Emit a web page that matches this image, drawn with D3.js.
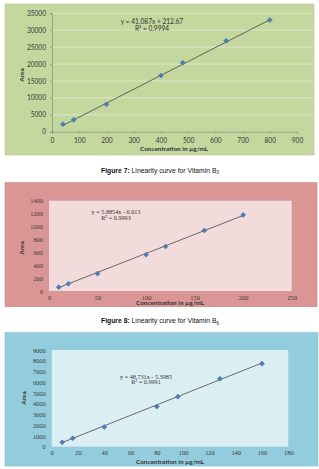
<!DOCTYPE html>
<html>
<head>
<meta charset="utf-8">
<script src="https://cdn.jsdelivr.net/npm/d3@7"></script>
<style>
  html, body { margin: 0; padding: 0; background: #fff; }
  svg { display: block; }
</style>
</head>
<body>
<div id="chart"></div>
<script>
// Vitamin B3 (figure 7)
const b3Conc = [40, 80, 200, 400, 480, 640, 800]
const b3Area = [2200, 3500, 8100, 16600, 20400, 26900, 33000]
const b3Slope = 41.087
const b3Intercept = 212.67
const b3Eqn = ['y = 41.087x + 212.67', 'R² = 0.9994']
const b3XTicks = [0, 100, 200, 300, 400, 500, 600, 700, 800, 900]
const b3YTicks = [0, 5000, 10000, 15000, 20000, 25000, 30000, 35000]

// Vitamin B6 (figure 8)
const b6Conc = [10, 20, 50, 100, 120, 160, 200]
const b6Area = [58, 113, 270, 563, 690, 938, 1180]
const b6Slope = 5.8854
const b6Intercept = -6.013
const b6Eqn = ['y = 5.8854x - 6.013', 'R² = 0.9993']
const b6XTicks = [0, 50, 100, 150, 200, 250]
const b6YTicks = [0, 200, 400, 600, 800, 1000, 1200, 1400]

// third vitamin
const b12Conc = [8, 16, 40, 80, 96, 128, 160]
const b12Area = [410, 780, 1840, 3730, 4660, 6330, 7730]
const b12Slope = 48.731
const b12Intercept = -5.3985
const b12Eqn = ['y = 48.731x - 5.3985', 'R² = 0.9991']
const b12XTicks = [0, 20, 40, 60, 80, 100, 120, 140, 160, 180]
const b12YTicks = [0, 1000, 2000, 3000, 4000, 5000, 6000, 7000, 8000, 9000]

const captions = [
    { bold: 'Figure 7:', text: ' Linearity curve for Vitamin B', sub: '3' },
    { bold: 'Figure 8:', text: ' Linearity curve for Vitamin B', sub: '6' }
]

const W = 319, H = 469
const svg = d3.select('#chart').append('svg')
    .attr('width', W).attr('height', H)

function drawChart(c) {
    let g = svg.append('g')

    // chart area
    g.append('rect')
        .attr('x', c.box[0]).attr('y', c.box[1])
        .attr('width', c.box[2] - c.box[0]).attr('height', c.box[3] - c.box[1])
        .attr('fill', c.outer)
        .attr('stroke', c.outerStroke).attr('stroke-width', 0.6)

    let x = d3.scaleLinear().domain(c.xDomain).range(c.xRange)
    let y = d3.scaleLinear().domain(c.yDomain).range(c.yRange)

    if (c.inner) {
        g.append('rect')
            .attr('x', c.xRange[0]).attr('y', c.yRange[1])
            .attr('width', c.xRange[1] - c.xRange[0])
            .attr('height', c.yRange[0] - c.yRange[1])
            .attr('fill', c.inner)
    }

    if (c.grid) {
        g.selectAll('.grid')
            .data(c.yTicks.slice(1))
            .enter()
            .append('line')
            .attr('x1', c.xRange[0]).attr('x2', c.gridEnd)
            .attr('y1', d => y(d)).attr('y2', d => y(d))
            .attr('stroke', '#e2ecd0').attr('stroke-width', 0.8)
    }

    let fmt = d3.format('d')
    let xAxis = g.append('g')
        .attr('transform', `translate(0,${c.yRange[0]})`)
        .call(d3.axisBottom(x).tickValues(c.xTicks).tickFormat(fmt).tickSize(c.tickSize).tickPadding(c.xPad))
    let yAxis = g.append('g')
        .attr('transform', `translate(${c.xRange[0]},0)`)
        .call(d3.axisLeft(y).tickValues(c.yTicks).tickFormat(fmt).tickSize(c.tickSize).tickPadding(c.yPad))

    for (let ax of [xAxis, yAxis]) {
        ax.selectAll('text')
            .style('font-family', c.tickFont)
            .style('font-size', c.tickFontSize + 'px')
            .attr('fill', '#3a3a3a')
        ax.selectAll('line').attr('stroke', '#888').attr('stroke-width', 0.6)
        if (c.axisLine) ax.select('.domain').attr('stroke', '#8a8a8a').attr('stroke-width', 0.7)
        else ax.select('.domain').remove()
    }

    // trendline from the fitted equation, over the data range
    let x0 = d3.min(c.xs), x1 = d3.max(c.xs)
    g.append('line')
        .attr('x1', x(x0)).attr('y1', y(c.slope * x0 + c.intercept))
        .attr('x2', x(x1)).attr('y2', y(c.slope * x1 + c.intercept))
        .attr('stroke', '#333').attr('stroke-width', 0.7)

    let diamond = d3.symbol().type(d3.symbolSquare).size(13)
    g.selectAll('.pt')
        .data(c.xs.map((d, i) => [d, c.ys[i]]))
        .enter()
        .append('path')
        .attr('d', diamond)
        .attr('transform', d => `translate(${x(d[0])},${y(d[1])}) rotate(45)`)
        .attr('fill', '#4a7ebb')
        .attr('stroke', '#3b6aa3').attr('stroke-width', 0.4)

    g.selectAll('.eqn')
        .data(c.eqn)
        .enter()
        .append('text')
        .attr('x', c.eqnPos[0])
        .attr('y', (d, i) => c.eqnPos[1] + i * c.eqnGap)
        .attr('text-anchor', 'middle')
        .style('font-family', c.tickFont)
        .style('font-size', c.eqnFontSize + 'px')
        .attr('fill', '#333')
        .text(d => d)

    g.append('text')
        .attr('x', c.xTitle[0]).attr('y', c.xTitle[1])
        .attr('text-anchor', 'middle')
        .style('font-family', 'Lato, "Liberation Sans", sans-serif')
        .style('font-weight', 'bold')
        .style('font-size', '6.4px')
        .attr('fill', '#333')
        .text('Concentration in µg/mL')

    g.append('text')
        .attr('transform', `translate(${c.yTitle[0]},${c.yTitle[1]}) rotate(-90)`)
        .attr('text-anchor', 'middle')
        .style('font-family', 'Lato, "Liberation Sans", sans-serif')
        .style('font-weight', 'bold')
        .style('font-size', '6.4px')
        .attr('fill', '#333')
        .text('Area')
}

drawChart({
    box: [5, 4, 314, 155], outer: '#c4d79e', outerStroke: '#b5c98e',
    xDomain: [0, 900], xRange: [52, 297], yDomain: [0, 35000], yRange: [131.7, 13.3],
    grid: true, gridEnd: 313, axisLine: true, tickSize: 2, xPad: 5, yPad: 4,
    xTicks: b3XTicks, yTicks: b3YTicks, xs: b3Conc, ys: b3Area,
    slope: b3Slope, intercept: b3Intercept, eqn: b3Eqn,
    tickFont: 'Lato, "Liberation Sans", sans-serif', tickFontSize: 6.6,
    eqnPos: [152, 23.5], eqnGap: 7.5, eqnFontSize: 6.6,
    xTitle: [174, 151], yTitle: [24, 75]
})

drawChart({
    box: [5, 182.7, 317, 306.7], outer: '#d99694', outerStroke: '#c88482', inner: '#f2dcdb',
    xDomain: [0, 250], xRange: [49, 291.7], yDomain: [0, 1400], yRange: [291, 200.7],
    grid: false, axisLine: false, tickSize: 0, xPad: 4, yPad: 6,
    xTicks: b6XTicks, yTicks: b6YTicks, xs: b6Conc, ys: b6Area,
    slope: b6Slope, intercept: b6Intercept, eqn: b6Eqn,
    tickFont: '"Liberation Serif", serif', tickFontSize: 6.4,
    eqnPos: [116, 214], eqnGap: 5.8, eqnFontSize: 6.2,
    xTitle: [170, 305], yTitle: [24, 248]
})

drawChart({
    box: [5, 332.7, 318, 466], outer: '#93cddd', outerStroke: '#82bccc', inner: '#dbeef4',
    xDomain: [0, 180], xRange: [51.7, 288.3], yDomain: [0, 9000], yRange: [446.7, 350],
    grid: false, axisLine: false, tickSize: 0, xPad: 4, yPad: 6,
    xTicks: b12XTicks, yTicks: b12YTicks, xs: b12Conc, ys: b12Area,
    slope: b12Slope, intercept: b12Intercept, eqn: b12Eqn,
    tickFont: '"Liberation Serif", serif', tickFontSize: 6.4,
    eqnPos: [146, 378.5], eqnGap: 5.8, eqnFontSize: 6.2,
    xTitle: [170, 463.5], yTitle: [26, 398]
})

// figure captions
let capY = [172.5, 323]
captions.forEach((c, i) => {
    let t = svg.append('text')
        .attr('x', 160).attr('y', capY[i])
        .attr('text-anchor', 'middle')
        .style('font-family', '"Liberation Sans", Arial, sans-serif')
        .style('font-size', '6.8px')
        .attr('fill', '#111')
    t.append('tspan').style('font-weight', 'bold').text(c.bold)
    t.append('tspan').text(c.text)
    t.append('tspan').attr('dy', 1.5).style('font-size', '4.5px').text(c.sub)
})
</script>
</body>
</html>
